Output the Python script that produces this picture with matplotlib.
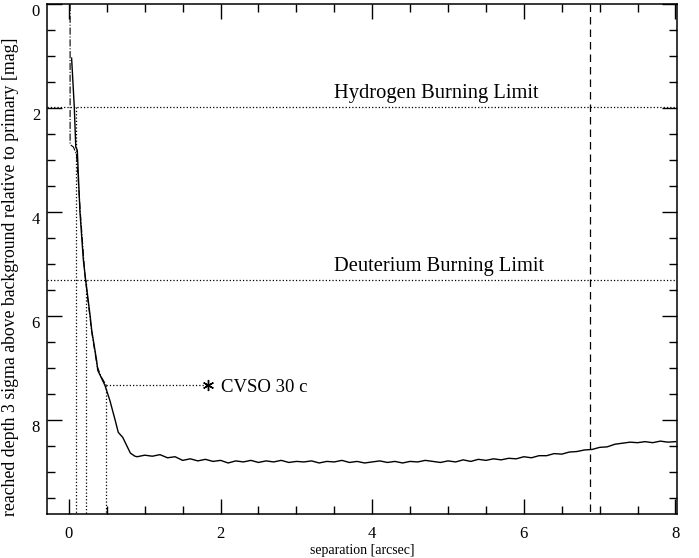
import matplotlib.pyplot as plt
from matplotlib.ticker import MultipleLocator

plt.rcParams['font.family'] = ['Liberation Serif', 'DejaVu Serif']

# contrast curve: steep part near the primary
sep_inner = [0.035, 0.07, 0.09, 0.11, 0.145, 0.19, 0.22, 0.28, 0.30, 0.365, 0.38, 0.40,
             0.475, 0.54, 0.61, 0.65, 0.71, 0.81, 0.87]
depth_inner = [1.04, 1.97, 2.75, 2.81, 4.0, 4.92, 5.3, 6.0, 6.27, 6.85, 7.04, 7.1,
               7.33, 7.62, 8.0, 8.23, 8.33, 8.63, 8.69]

# plateau, sampled every 0.1 arcsec
sep_outer = [0.9, 1.0, 1.1, 1.2, 1.3, 1.4, 1.5, 1.6, 1.7, 1.8, 1.9, 2.0, 2.1, 2.2, 2.3, 2.4,
             2.5, 2.6, 2.7, 2.8, 2.9, 3.0, 3.1, 3.2, 3.3, 3.4, 3.5, 3.6, 3.7, 3.8, 3.9, 4.0,
             4.1, 4.2, 4.3, 4.4, 4.5, 4.6, 4.7, 4.8, 4.9, 5.0, 5.1, 5.2, 5.3, 5.4, 5.5, 5.6,
             5.7, 5.8, 5.9, 6.0, 6.1, 6.2, 6.3, 6.4, 6.5, 6.6, 6.7, 6.8, 6.9, 7.0, 7.1, 7.2,
             7.3, 7.4, 7.5, 7.6, 7.7, 7.8, 7.9, 8.0]
depth_outer = [8.70, 8.67, 8.69, 8.66, 8.72, 8.70, 8.77, 8.74, 8.78, 8.75, 8.79, 8.77,
               8.82, 8.78, 8.80, 8.77, 8.81, 8.78, 8.80, 8.77, 8.81, 8.79, 8.80, 8.78,
               8.82, 8.79, 8.80, 8.77, 8.81, 8.79, 8.82, 8.80, 8.78, 8.81, 8.79, 8.82,
               8.79, 8.80, 8.77, 8.79, 8.81, 8.78, 8.80, 8.76, 8.79, 8.75, 8.77, 8.74,
               8.76, 8.73, 8.74, 8.70, 8.72, 8.68, 8.68, 8.64, 8.65, 8.61, 8.60, 8.57,
               8.56, 8.52, 8.51, 8.46, 8.44, 8.42, 8.43, 8.41, 8.43, 8.40, 8.42, 8.41]

# second (dash-dot) curve
sep_alt = [0.015, 0.015, 0.06, 0.10, 0.15, 0.21, 0.30, 0.37, 0.42, 0.50]
depth_alt = [0.0, 2.7, 2.75, 2.9, 4.0, 5.2, 6.3, 6.95, 7.15, 7.35]

hbl = 1.97   # hydrogen burning limit
dbl = 5.30   # deuterium burning limit
comp_sep, comp_depth = 1.84, 7.32   # CVSO 30 c
cross_sep = [0.09, 0.22, 0.49]
cross_depth = [hbl, dbl, comp_depth]
outer_limit = 6.87

xmin, xmax = -0.29, 8.02
ymin, ymax = 9.8, 0.0

fig = plt.figure(figsize=(6.99, 5.58), dpi=100)
ax = fig.add_axes([0.0672, 0.0789, 0.9013, 0.9139])

ax.plot(sep_inner + sep_outer, depth_inner + depth_outer, color='black', lw=1.0)
ax.plot(sep_alt, depth_alt, color='black', lw=0.8, ls='-.')

ax.plot([xmin, xmax], [hbl, hbl], color='black', ls=':', lw=0.9)
ax.plot([xmin, xmax], [dbl, dbl], color='black', ls=':', lw=0.9)
ax.plot([cross_sep[2], comp_sep], [comp_depth, comp_depth], color='black', ls=':', lw=0.9)
for s, d in zip(cross_sep, cross_depth):
    ax.plot([s, s], [d, ymin], color='black', ls=':', lw=0.9)
ax.plot([outer_limit, outer_limit], [ymax, ymin], color='black', ls=(0, (6, 4)), lw=0.9)

ax.plot(comp_sep, comp_depth, marker=(6, 2, 0), color='black', ms=8, mew=1.0)
ax.text(comp_sep + 0.16, comp_depth + 0.05, 'CVSO 30 c', fontsize=13.5, va='center')
ax.text(3.49, hbl - 0.07, 'Hydrogen Burning Limit', fontsize=14.8, va='bottom')
ax.text(3.49, dbl - 0.07, 'Deuterium Burning Limit', fontsize=14.8, va='bottom')

ax.set_xlim(xmin, xmax)
ax.set_ylim(ymin, ymax)
ax.xaxis.set_major_locator(MultipleLocator(2))
ax.xaxis.set_minor_locator(MultipleLocator(0.5))
ax.yaxis.set_major_locator(MultipleLocator(2))
ax.yaxis.set_minor_locator(MultipleLocator(0.5))
ax.tick_params(which='both', direction='in', top=True, right=True, width=1.0, labelsize=12)
ax.tick_params(which='major', length=11)
ax.tick_params(axis='x', which='major', pad=9)
ax.tick_params(axis='y', which='major', pad=5)
ax.tick_params(which='minor', length=6)
for sp in ax.spines.values():
    sp.set_linewidth(1.1)

# keep the "0" at the top inside the figure
for tick in ax.yaxis.get_major_ticks():
    if tick.get_loc() == 0:
        tick.label1.set_va('top')

ax.set_xlabel('separation [arcsec]', fontsize=10, labelpad=1)
ax.set_ylabel('reached depth 3 sigma above background relative to primary [mag]',
              fontsize=12.8)
ax.yaxis.set_label_coords(-0.045, 0.465)

fig.savefig('out.png', dpi=100)
